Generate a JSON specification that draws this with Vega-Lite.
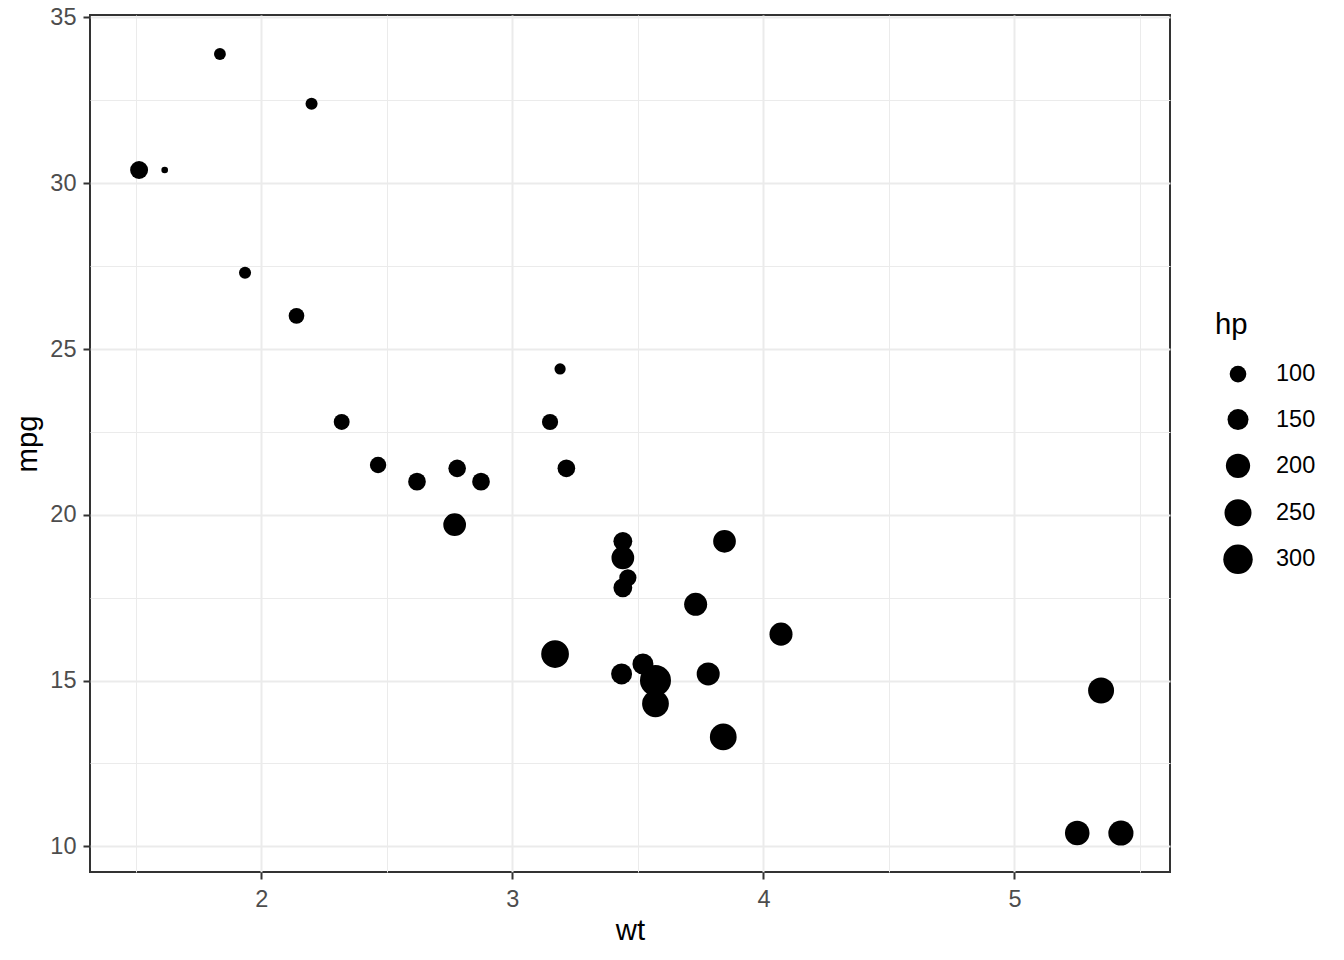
{
  "$schema": "https://vega.github.io/schema/vega-lite/v6.json",
  "width": 1080,
  "height": 857,
  "autosize": {"type": "none"},
  "padding": {"left": 90, "top": 15, "right": 174, "bottom": 88},
  "background": "white",
  "config": {
    "font": "Liberation Sans",
    "view": {"stroke": "#333333", "strokeWidth": 2}
  },
  "data": {
    "values": [
      {"car": "Mazda RX4", "mpg": 21.0, "wt": 2.620, "hp": 110},
      {"car": "Mazda RX4 Wag", "mpg": 21.0, "wt": 2.875, "hp": 110},
      {"car": "Datsun 710", "mpg": 22.8, "wt": 2.320, "hp": 93},
      {"car": "Hornet 4 Drive", "mpg": 21.4, "wt": 3.215, "hp": 110},
      {"car": "Hornet Sportabout", "mpg": 18.7, "wt": 3.440, "hp": 175},
      {"car": "Valiant", "mpg": 18.1, "wt": 3.460, "hp": 105},
      {"car": "Duster 360", "mpg": 14.3, "wt": 3.570, "hp": 245},
      {"car": "Merc 240D", "mpg": 24.4, "wt": 3.190, "hp": 62},
      {"car": "Merc 230", "mpg": 22.8, "wt": 3.150, "hp": 95},
      {"car": "Merc 280", "mpg": 19.2, "wt": 3.440, "hp": 123},
      {"car": "Merc 280C", "mpg": 17.8, "wt": 3.440, "hp": 123},
      {"car": "Merc 450SE", "mpg": 16.4, "wt": 4.070, "hp": 180},
      {"car": "Merc 450SL", "mpg": 17.3, "wt": 3.730, "hp": 180},
      {"car": "Merc 450SLC", "mpg": 15.2, "wt": 3.780, "hp": 180},
      {"car": "Cadillac Fleetwood", "mpg": 10.4, "wt": 5.250, "hp": 205},
      {"car": "Lincoln Continental", "mpg": 10.4, "wt": 5.424, "hp": 215},
      {"car": "Chrysler Imperial", "mpg": 14.7, "wt": 5.345, "hp": 230},
      {"car": "Fiat 128", "mpg": 32.4, "wt": 2.200, "hp": 66},
      {"car": "Honda Civic", "mpg": 30.4, "wt": 1.615, "hp": 52},
      {"car": "Toyota Corolla", "mpg": 33.9, "wt": 1.835, "hp": 65},
      {"car": "Toyota Corona", "mpg": 21.5, "wt": 2.465, "hp": 97},
      {"car": "Dodge Challenger", "mpg": 15.5, "wt": 3.520, "hp": 150},
      {"car": "AMC Javelin", "mpg": 15.2, "wt": 3.435, "hp": 150},
      {"car": "Camaro Z28", "mpg": 13.3, "wt": 3.840, "hp": 245},
      {"car": "Pontiac Firebird", "mpg": 19.2, "wt": 3.845, "hp": 175},
      {"car": "Fiat X1-9", "mpg": 27.3, "wt": 1.935, "hp": 66},
      {"car": "Porsche 914-2", "mpg": 26.0, "wt": 2.140, "hp": 91},
      {"car": "Lotus Europa", "mpg": 30.4, "wt": 1.513, "hp": 113},
      {"car": "Ford Pantera L", "mpg": 15.8, "wt": 3.170, "hp": 264},
      {"car": "Ferrari Dino", "mpg": 19.7, "wt": 2.770, "hp": 175},
      {"car": "Maserati Bora", "mpg": 15.0, "wt": 3.570, "hp": 335},
      {"car": "Volvo 142E", "mpg": 21.4, "wt": 2.780, "hp": 109}
    ]
  },
  "mark": {"type": "circle", "color": "black", "opacity": 1},
  "encoding": {
    "x": {
      "field": "wt",
      "type": "quantitative",
      "title": "wt",
      "scale": {"domain": [1.31745, 5.61955], "nice": false, "zero": false},
      "axis": {
        "values": [1.5, 2, 2.5, 3, 3.5, 4, 4.5, 5, 5.5],
        "labelExpr": "datum.value % 1 === 0 ? format(datum.value, 'd') : ''",
        "domain": false,
        "tickColor": {"condition": {"test": "datum.value % 1 === 0", "value": "#333333"}, "value": "transparent"},
        "tickSize": 7,
        "tickWidth": 2,
        "gridColor": "#EBEBEB",
        "gridWidth": {"condition": {"test": "datum.value % 1 === 0", "value": 2}, "value": 1},
        "labelFont": "Liberation Sans",
        "labelFontSize": 23.5,
        "labelColor": "#4D4D4D",
        "labelPadding": 8,
        "labelFlush": false,
        "labelOverlap": false,
        "titleFont": "Liberation Sans",
        "titleFontSize": 29.3,
        "titleFontWeight": "normal",
        "titleColor": "black",
        "titlePadding": 6
      }
    },
    "y": {
      "field": "mpg",
      "type": "quantitative",
      "title": "mpg",
      "scale": {"domain": [9.225, 35.075], "nice": false, "zero": false},
      "axis": {
        "values": [10, 12.5, 15, 17.5, 20, 22.5, 25, 27.5, 30, 32.5, 35],
        "labelExpr": "datum.value % 5 === 0 ? format(datum.value, 'd') : ''",
        "domain": false,
        "tickColor": {"condition": {"test": "datum.value % 5 === 0", "value": "#333333"}, "value": "transparent"},
        "tickSize": 7,
        "tickWidth": 2,
        "gridColor": "#EBEBEB",
        "gridWidth": {"condition": {"test": "datum.value % 5 === 0", "value": 2}, "value": 1},
        "labelFont": "Liberation Sans",
        "labelFontSize": 23.5,
        "labelColor": "#4D4D4D",
        "labelPadding": 7,
        "labelFlush": false,
        "labelOverlap": false,
        "titleFont": "Liberation Sans",
        "titleFontSize": 29.3,
        "titleFontWeight": "normal",
        "titleColor": "black",
        "titlePadding": 7
      }
    },
    "size": {
      "field": "hp",
      "type": "quantitative",
      "title": "hp",
      "scale": {
        "type": "linear",
        "domain": [52, 54, 57, 62, 66, 70, 80, 95, 110, 130, 150, 175, 200, 230, 260, 300, 335],
        "range": [44.2, 75.6, 97.7, 126.1, 145.6, 163.7, 204.9, 260.7, 312.6, 378.0, 440.5, 515.9, 589.1, 674.7, 758.5, 868.0, 962.1],
        "zero": false,
        "nice": false
      },
      "legend": {
        "orient": "none",
        "legendX": 1125,
        "legendY": 296,
        "gridAlign": "all",
        "values": [100, 150, 200, 250, 300],
        "symbolFillColor": "black",
        "symbolStrokeColor": "black",
        "symbolStrokeWidth": 0,
        "symbolOffset": 8,
        "titleFont": "Liberation Sans",
        "titleFontSize": 29.3,
        "titleFontWeight": "normal",
        "titleColor": "black",
        "titlePadding": 22,
        "labelFont": "Liberation Sans",
        "labelFontSize": 23.5,
        "labelColor": "black",
        "labelOffset": 23,
        "rowPadding": 14.5
      }
    }
  }
}
